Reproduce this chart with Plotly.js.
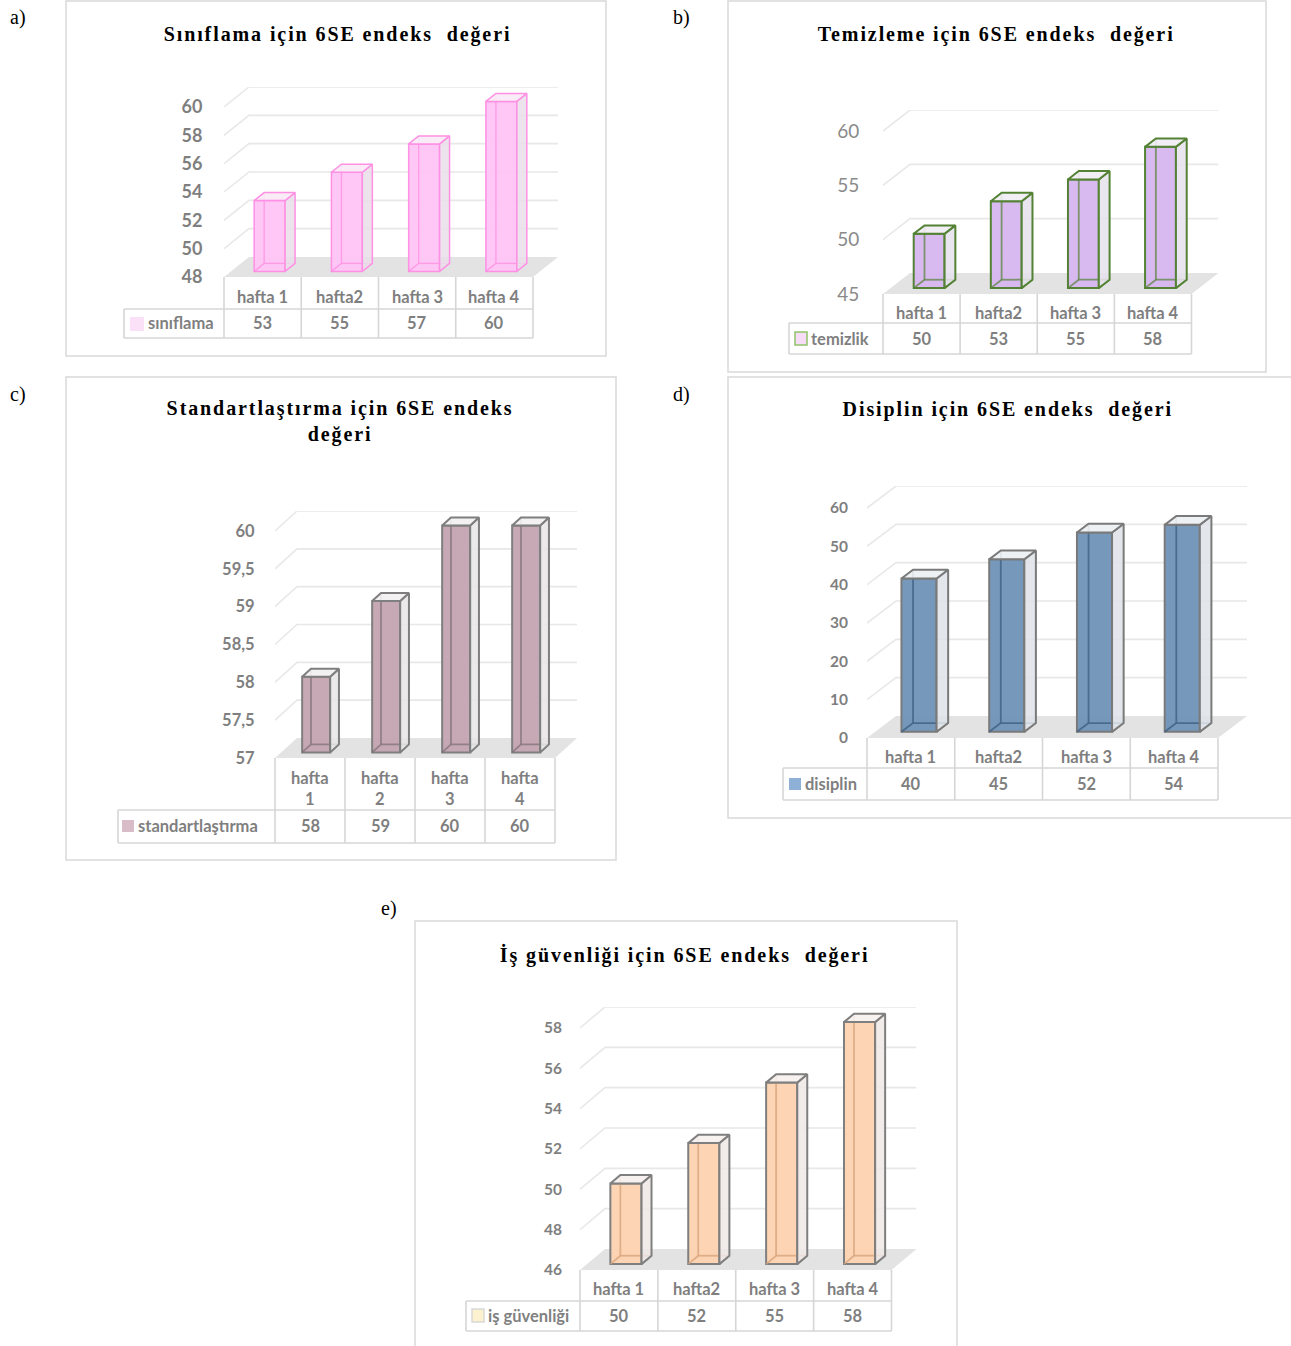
<!DOCTYPE html>
<html><head><meta charset="utf-8">
<script src="https://cdn.plot.ly/plotly-3.0.1.min.js"></script>
<style>html,body{margin:0;padding:0;background:#fff;overflow:hidden}</style>
</head><body><div id="chart" style="width:1291px;height:1346px"></div>
<script>
// ---------------- DATA ----------------
const categories = ['hafta 1', 'hafta2', 'hafta 3', 'hafta 4'];
const categoriesC = ['hafta<br>1', 'hafta<br>2', 'hafta<br>3', 'hafta<br>4'];
const siniflama = [53, 55, 57, 60];
const temizlik = [50, 53, 55, 58];
const standartlastirma = [58, 59, 60, 60];
const disiplin = [40, 45, 52, 54];
const isGuvenligi = [50, 52, 55, 58];
const ticksA = [48, 50, 52, 54, 56, 58, 60];
const ticksB = [45, 50, 55, 60];
const ticksC = [57, 57.5, 58, 58.5, 59, 59.5, 60];
const tickTextC = ['57', '57,5', '58', '58,5', '59', '59,5', '60'];
const ticksD = [0, 10, 20, 30, 40, 50, 60];
const ticksE = [46, 48, 50, 52, 54, 56, 58];
const titles = [
  'Sınıflama için 6SE endeks\u00a0 değeri',
  'Temizleme için 6SE endeks\u00a0 değeri',
  'Standartlaştırma için 6SE endeks<br>değeri',
  'Disiplin için 6SE endeks\u00a0 değeri',
  'İş güvenliği için 6SE endeks\u00a0 değeri'
];
const seriesNames = ['sınıflama', 'temizlik', 'standartlaştırma', 'disiplin', 'iş güvenliği'];
const panelLabels = ['a)', 'b)', 'c)', 'd)', 'e)'];

// ---------------- LAYOUT / STYLE ----------------
const W = 1291, H = 1346;
const fx = p => p / W;
const fy = p => 1 - p / H;
const GRAY = '#7f7f7f';
const F0 = 0.28, FD = 0.40, BW = 0.40;

const panels = [
  { vals: siniflama, cats: categories, ticks: ticksA, tickText: ticksA.map(String),
    x0: 224, x1: 533, yMinPx: 277, yTopPx: 107, DX: 25, DY: 20,
    leg: 124, rowMid: 309, rowBot: 338, catY: 297, valY: 323,
    sq: [130, 144, 317, 331], sqFill: '#fbe1f7', sqLine: 'rgba(0,0,0,0)', nameX: 146,
    box: [66, 1, 606, 356], titleX: 337, titleY: 34, labelX: 18, labelY: 18,
    fill: 'rgba(255,196,244,0.95)', edge: '#ff90e4', edgeW: 1.5,
    side: 'rgba(234,222,234,0.85)', top: 'rgba(248,234,246,0.9)', back: 'rgba(255,140,225,0.75)',
    tickFont: { family: 'Lato', size: 18, weight: 700, color: GRAY }, ticklen: 17 },
  { vals: temizlik, cats: categories, ticks: ticksB, tickText: ticksB.map(String),
    x0: 883, x1: 1191.5, yMinPx: 294, yTopPx: 131, DX: 27, DY: 21,
    leg: 789, rowMid: 323, rowBot: 354, catY: 313, valY: 339,
    sq: [795, 807, 332, 345], sqFill: '#f6dcf6', sqLine: '#8fc46a', nameX: 809,
    box: [728, 1, 1266, 372], titleX: 996, titleY: 34, labelX: 681, labelY: 18,
    fill: 'rgba(214,182,240,0.95)', edge: '#548235', edgeW: 2,
    side: 'rgba(230,226,236,0.85)', top: 'rgba(240,236,244,0.9)', back: 'rgba(84,130,53,0.7)',
    tickFont: { family: 'Lato', size: 19, weight: 400, color: '#8a8a8a' }, ticklen: 19 },
  { vals: standartlastirma, cats: categoriesC, ticks: ticksC, tickText: tickTextC,
    x0: 275, x1: 555, yMinPx: 758, yTopPx: 531, DX: 22, DY: 20,
    leg: 118, rowMid: 810, rowBot: 843, catY: 788, valY: 826,
    sq: [122, 134, 820, 832], sqFill: '#d8bcc7', sqLine: 'rgba(0,0,0,0)', nameX: 136,
    box: [66, 377, 616, 860], titleX: 340, titleY: 421, labelX: 18, labelY: 394,
    fill: 'rgba(196,166,178,0.97)', edge: '#7f7f7f', edgeW: 2,
    side: 'rgba(232,229,230,0.85)', top: 'rgba(242,240,240,0.9)', back: 'rgba(125,110,116,0.7)',
    tickFont: { family: 'Lato', size: 16.5, weight: 700, color: GRAY }, ticklen: 16 },
  { vals: disiplin, cats: categories, ticks: ticksD, tickText: ticksD.map(String),
    x0: 867, x1: 1218, yMinPx: 738, yTopPx: 508, DX: 29, DY: 22,
    leg: 783, rowMid: 768, rowBot: 800, catY: 757, valY: 784,
    sq: [789, 801, 778, 790], sqFill: '#8fb0d6', sqLine: 'rgba(0,0,0,0)', nameX: 803,
    box: [728, 377, 1293, 818], titleX: 1008, titleY: 409, labelX: 681, labelY: 394,
    fill: 'rgba(114,150,185,0.97)', edge: '#7a7a7a', edgeW: 2,
    side: 'rgba(222,227,232,0.85)', top: 'rgba(236,239,242,0.9)', back: 'rgba(62,96,132,0.8)',
    tickFont: { family: 'Lato', size: 15.5, weight: 700, color: GRAY }, ticklen: 15 },
  { vals: isGuvenligi, cats: categories, ticks: ticksE, tickText: ticksE.map(String),
    x0: 580, x1: 891.5, yMinPx: 1270, yTopPx: 1028, DX: 25, DY: 21,
    leg: 466, rowMid: 1301, rowBot: 1331, catY: 1289, valY: 1316,
    sq: [472, 484, 1309, 1322], sqFill: '#fdf2cf', sqLine: '#d8d8d8', nameX: 486,
    box: [415, 921, 957, 1352], titleX: 685, titleY: 955, labelX: 389, labelY: 908,
    fill: 'rgba(253,212,178,0.97)', edge: '#7f7f7f', edgeW: 2,
    side: 'rgba(238,232,230,0.85)', top: 'rgba(246,240,237,0.9)', back: 'rgba(214,160,120,0.75)',
    tickFont: { family: 'Lato', size: 15.5, weight: 700, color: GRAY }, ticklen: 14 }
];

const traces = [];
const shapes = [];
const annotations = [];
const layout = {
  width: W, height: H, margin: { l: 0, r: 0, t: 0, b: 0 },
  paper_bgcolor: '#ffffff', plot_bgcolor: 'rgba(0,0,0,0)',
  showlegend: false, separators: ',.', hovermode: false
};

const tableLine = { color: '#d6d6d6', width: 1.6 };

panels.forEach((p, k) => {
  const n = k === 0 ? '' : String(k + 1);
  const xa = 'x' + n, ya = 'y' + n;
  const ymin = p.ticks[0], ytop = p.ticks[p.ticks.length - 1];
  const ncat = p.vals.length;
  const cw = (p.x1 - p.x0) / ncat;
  const ppu = (p.yMinPx - p.yTopPx) / (ytop - ymin);
  const dxu = p.DX / cw, dyu = p.DY / ppu;

  layout['xaxis' + n] = {
    domain: [fx(p.x0), fx(p.x1 + p.DX)], range: [-0.5, ncat - 0.5 + dxu],
    visible: false, fixedrange: true, anchor: ya
  };
  layout['yaxis' + n] = {
    domain: [fy(p.yMinPx), fy(p.yTopPx - p.DY)], range: [ymin, ytop + dyu],
    anchor: xa, tickmode: 'array', tickvals: p.ticks, ticktext: p.tickText,
    showgrid: false, zeroline: false, showline: false,
    ticks: 'outside', ticklen: p.ticklen, tickcolor: 'rgba(0,0,0,0)',
    tickfont: p.tickFont, fixedrange: true
  };

  // panel border
  shapes.push({ type: 'rect', xref: 'paper', yref: 'paper', layer: 'below',
    x0: fx(p.box[0]), x1: fx(p.box[2]), y0: fy(p.box[1]), y1: fy(p.box[3]),
    line: { color: '#d9d9d9', width: 1.5 }, fillcolor: 'rgba(0,0,0,0)' });

  // floor
  const L = -0.5, R = ncat - 0.5;
  shapes.push({ type: 'path', xref: xa, yref: ya, layer: 'below',
    path: `M ${L},${ymin} L ${R},${ymin} L ${R + dxu},${ymin + dyu} L ${L + dxu},${ymin + dyu} Z`,
    fillcolor: '#e3e3e3', line: { width: 0 } });
  // gridlines (back wall + left side)
  p.ticks.slice(1).forEach(t => {
    shapes.push({ type: 'path', xref: xa, yref: ya, layer: 'below',
      path: `M ${L},${t} L ${L + dxu},${t + dyu} L ${R + dxu},${t + dyu}`,
      line: { color: '#e8e8e8', width: 1.6 } });
  });

  // bars: front faces
  const b = ymin + F0 * dyu;
  const xs = p.vals.map((v, i) => i + F0 * dxu);
  traces.push({ type: 'bar', xaxis: xa, yaxis: ya, x: xs,
    y: p.vals.map(v => v - ymin), base: b, width: BW, hoverinfo: 'skip',
    marker: { color: p.fill, line: { color: p.edge, width: p.edgeW } } });

  // side + top faces, back edges
  const ddx = FD * dxu, ddy = FD * dyu;
  const sx = [], sy = [], tx = [], ty = [], ex = [], ey = [];
  p.vals.forEach((v, i) => {
    const xl = xs[i] - BW / 2, xr = xs[i] + BW / 2, t = v + F0 * dyu;
    sx.push(xr, xr + ddx, xr + ddx, xr, xr, null);
    sy.push(b, b + ddy, t + ddy, t, b, null);
    tx.push(xl, xr, xr + ddx, xl + ddx, xl, null);
    ty.push(t, t, t + ddy, t + ddy, t, null);
    ex.push(xl + ddx, xl + ddx, null, xl + ddx, xr + ddx, null, xl, xl + ddx, null);
    ey.push(b + ddy, t + ddy, null, b + ddy, b + ddy, null, b, b + ddy, null);
  });
  traces.push({ type: 'scatter', mode: 'lines', xaxis: xa, yaxis: ya, x: ex, y: ey,
    hoverinfo: 'skip', line: { color: p.back, width: p.edgeW * 0.9 } });
  traces.push({ type: 'scatter', mode: 'lines', xaxis: xa, yaxis: ya, x: sx, y: sy,
    fill: 'toself', fillcolor: p.side, hoverinfo: 'skip',
    line: { color: p.edge, width: p.edgeW } });
  traces.push({ type: 'scatter', mode: 'lines', xaxis: xa, yaxis: ya, x: tx, y: ty,
    fill: 'toself', fillcolor: p.top, hoverinfo: 'skip',
    line: { color: p.edge, width: p.edgeW } });

  // data table lines
  for (let c = 0; c <= ncat; c++) {
    const xp = p.x0 + c * cw;
    shapes.push({ type: 'line', xref: 'paper', yref: 'paper',
      x0: fx(xp), x1: fx(xp), y0: fy(p.yMinPx), y1: fy(p.rowBot), line: tableLine });
  }
  [p.rowMid, p.rowBot].forEach(yy => shapes.push({ type: 'line', xref: 'paper', yref: 'paper',
    x0: fx(p.leg), x1: fx(p.x1), y0: fy(yy), y1: fy(yy), line: tableLine }));
  shapes.push({ type: 'line', xref: 'paper', yref: 'paper',
    x0: fx(p.leg), x1: fx(p.leg), y0: fy(p.rowMid), y1: fy(p.rowBot), line: tableLine });
  // legend key
  shapes.push({ type: 'rect', xref: 'paper', yref: 'paper',
    x0: fx(p.sq[0]), x1: fx(p.sq[1]), y0: fy(p.sq[2]), y1: fy(p.sq[3]),
    fillcolor: p.sqFill, line: { color: p.sqLine, width: 1.5 } });

  const tfont = { family: 'Lato', size: 16.5, weight: 700, color: GRAY };
  p.cats.forEach((c, i) => {
    annotations.push({ xref: xa, yref: 'paper', x: i, y: fy(p.catY), text: c,
      showarrow: false, xanchor: 'center', yanchor: 'middle', font: tfont });
    annotations.push({ xref: xa, yref: 'paper', x: i, y: fy(p.valY), text: String(p.vals[i]),
      showarrow: false, xanchor: 'center', yanchor: 'middle', font: tfont });
  });
  annotations.push({ xref: 'paper', yref: 'paper', x: fx(p.nameX), y: fy(p.valY),
    text: seriesNames[k], showarrow: false, xanchor: 'left', yanchor: 'middle', font: tfont });

  // title and panel label
  annotations.push({ xref: 'paper', yref: 'paper', x: fx(p.titleX), y: fy(p.titleY),
    text: titles[k], showarrow: false, xanchor: 'center', yanchor: 'middle',
    font: { family: 'Liberation Serif', size: 20, weight: 700, color: '#000000' } });
  annotations.push({ xref: 'paper', yref: 'paper', x: fx(p.labelX), y: fy(p.labelY),
    text: panelLabels[k], showarrow: false, xanchor: 'center', yanchor: 'middle',
    font: { family: 'Liberation Serif', size: 20, color: '#000000' } });
});

layout.shapes = shapes;
layout.annotations = annotations;

Plotly.newPlot('chart', traces, layout, { staticPlot: true }).then(() => {
  document.querySelectorAll('.annotation-text').forEach(t => {
    if (t.textContent.indexOf('6SE') >= 0) t.style.letterSpacing = '1.9px';
  });
});
</script>
</body></html>
